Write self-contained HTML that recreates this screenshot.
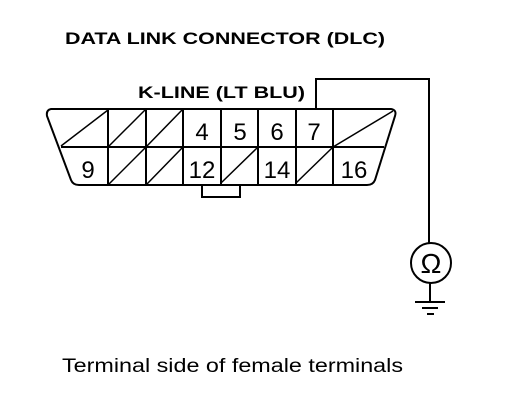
<!DOCTYPE html>
<html><head><style>
body{margin:0;background:#fff;width:512px;height:404px;overflow:hidden}
</style></head><body>
<svg width="512" height="404" viewBox="0 0 512 404" xmlns="http://www.w3.org/2000/svg">
<g font-family="Liberation Sans, Arial, sans-serif" fill="#000">
<text x="65" y="44" font-size="17" font-weight="bold" textLength="320" lengthAdjust="spacingAndGlyphs">DATA LINK CONNECTOR (DLC)</text>
<text x="138" y="98" font-size="17" font-weight="bold" textLength="167" lengthAdjust="spacingAndGlyphs">K-LINE (LT BLU)</text>
<text x="62" y="372" font-size="19" textLength="341" lengthAdjust="spacingAndGlyphs">Terminal side of female terminals</text>
</g>
<g stroke="#000" stroke-width="2" fill="none">
<path d="M51,109 L391,109 Q397,110 395,116 L375,180 Q373,185 367,185 L79,185 Q73,185 71,180 L47,116 Q46,110 51,109 Z"/>
<line x1="61" y1="147" x2="384" y2="147"/>
<line x1="108" y1="109" x2="108" y2="185"/>
<line x1="146" y1="109" x2="146" y2="185"/>
<line x1="183" y1="109" x2="183" y2="185"/>
<line x1="221" y1="109" x2="221" y2="147"/>
<line x1="258" y1="109" x2="258" y2="185"/>
<line x1="296" y1="109" x2="296" y2="147"/>
<line x1="333" y1="109" x2="333" y2="185"/>
<line x1="221" y1="147" x2="221" y2="185"/>
<line x1="296" y1="147" x2="296" y2="185"/>
<path d="M202,185 L202,197 L240,197 L240,185"/>
<g stroke-width="1.5">
<line x1="61" y1="146" x2="108" y2="110"/>
<line x1="108" y1="147" x2="146" y2="109"/>
<line x1="146" y1="147" x2="183" y2="109"/>
<line x1="333" y1="147" x2="393" y2="111"/>
<line x1="108" y1="185" x2="146" y2="147"/>
<line x1="146" y1="185" x2="183" y2="147"/>
<line x1="221" y1="183" x2="257" y2="148"/>
<line x1="296" y1="183" x2="332" y2="148"/>
</g>
<path d="M316,109 L316,79 L429,79 L429,243"/>
<circle cx="431" cy="263" r="20"/>
<line x1="430" y1="283" x2="430" y2="302"/>
<line x1="415" y1="302" x2="445" y2="302"/>
<line x1="422" y1="308" x2="438" y2="308"/>
<line x1="427" y1="314" x2="434" y2="314"/>
</g>
<g font-family="Liberation Sans, Arial, sans-serif" font-size="24" fill="#000" text-anchor="middle">
<text x="202" y="140">4</text><text x="240" y="140">5</text><text x="277" y="140">6</text><text x="314" y="140">7</text>
<text x="88" y="178">9</text><text x="202" y="178">12</text><text x="277" y="178">14</text><text x="354" y="178">16</text>
<text x="431" y="273" font-size="28">Ω</text>
</g>
</svg>
</body></html>
